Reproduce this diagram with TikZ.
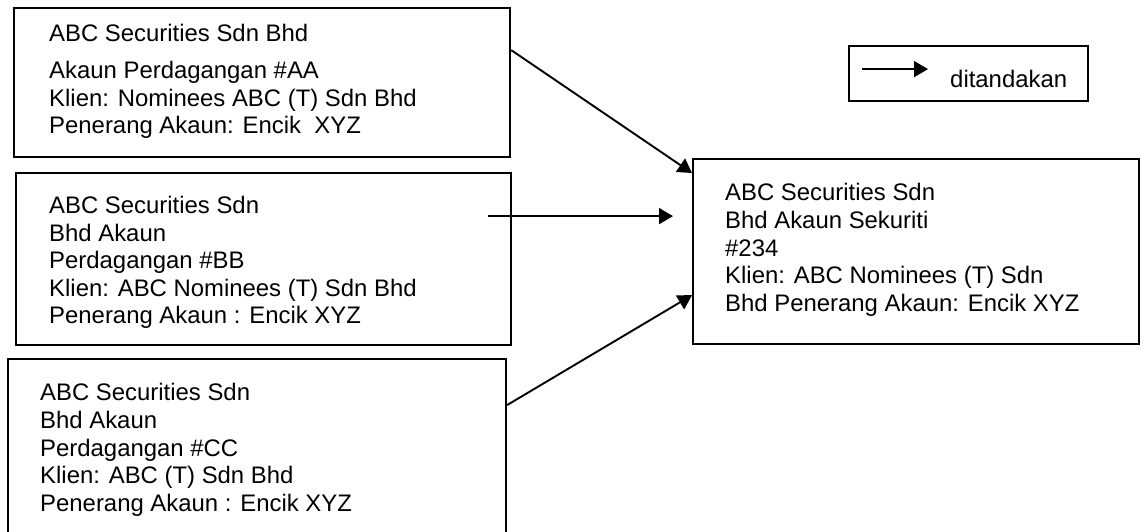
\documentclass[tikz,border=0pt]{standalone}
\usepackage{fontspec}
\setmainfont{Liberation Sans}
\usetikzlibrary{arrows.meta}
\tikzset{
  box/.style={draw, line width=2.2pt, inner sep=0pt, anchor=north west},
  txt/.style={inner sep=0pt, anchor=north west, align=left, font=\fontsize{23.9}{27.6}\selectfont},
  arr/.style={line width=1.9pt, -{Triangle[length=14pt,width=16pt]}},
}
\begin{document}
\begin{tikzpicture}[x=1pt,y=-1pt]
\clip (0,0) rectangle (1145,531);
\fill[white] (0,0) rectangle (1145,531);

% boxes
\node[box, minimum width=496pt, minimum height=149pt] (A) at (13,7) {};
\node[box, minimum width=495pt, minimum height=172pt] (B) at (15,172) {};
\node[box, minimum width=498pt, minimum height=200pt] (C) at (7,358) {};
\node[box, minimum width=446pt, minimum height=185pt] (R) at (692,158) {};
\node[box, minimum width=239pt, minimum height=55pt] (L) at (848,45) {};

% texts
\node[txt] (tA) at (49,24.3) {ABC Securities Sdn Bhd\\[9pt]Akaun Perdagangan \#AA\\Klien: Nominees ABC (T) Sdn Bhd\\Penerang Akaun: Encik\ \ XYZ};
\node[txt] (tB) at (49,195.9) {ABC Securities Sdn\\Bhd Akaun\\Perdagangan \#BB\\Klien: ABC Nominees (T) Sdn Bhd\\Penerang Akaun : Encik XYZ};
\node[txt] (tC) at (40,383.3) {ABC Securities Sdn\\Bhd Akaun\\Perdagangan \#CC\\Klien: ABC (T) Sdn Bhd\\Penerang Akaun : Encik XYZ};
\node[txt] (tR) at (725,183.3) {ABC Securities Sdn\\Bhd Akaun Sekuriti\\\#234\\Klien: ABC Nominees (T) Sdn\\Bhd Penerang Akaun: Encik XYZ};
\node[inner sep=0pt, anchor=base west, font=\fontsize{23.9}{27.6}\selectfont] (tL) at (950,87.3) {ditandakan};

% connectors
\draw[arr] ([yshift=32.5pt]A.east) -- ([yshift=-15pt]R.north west);
\draw[arr] ([xshift=-24pt,yshift=43pt]B.east) -- ([xshift=-19pt,yshift=35.5pt]R.west);
\draw[arr] ([yshift=-47pt]C.north east) -- ([yshift=50pt]R.south west);

% legend arrow
\draw[arr] ([xshift=14pt,yshift=4.5pt]L.west) -- ([xshift=80pt,yshift=4.5pt]L.west);
\end{tikzpicture}
\end{document}
